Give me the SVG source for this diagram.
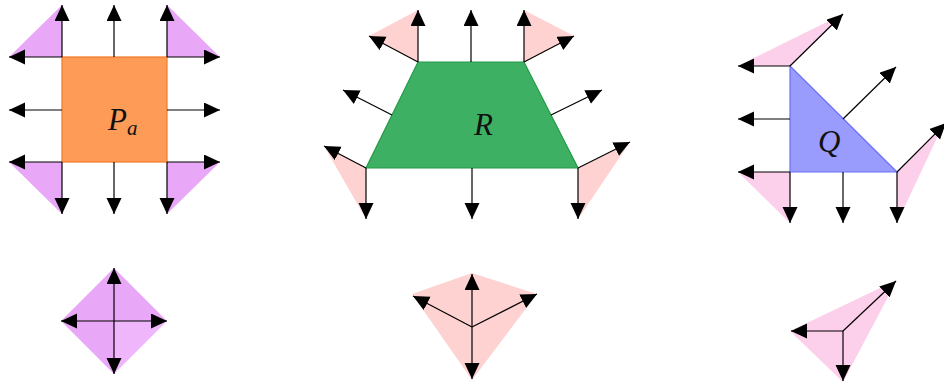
<svg xmlns="http://www.w3.org/2000/svg" width="944" height="385" viewBox="0 0 944 385">
<defs>
<marker id="ah" markerUnits="userSpaceOnUse" markerWidth="17" markerHeight="16" refX="16" refY="7.5" orient="auto">
<path d="M0,0 L16,7.5 L0,15 z" fill="#000"/>
</marker>
<style>
.ar{stroke:#000;stroke-width:1.2;fill:none;marker-end:url(#ah)}
.pu{fill:#e9a8f7}
.pu2{fill:#efb6fb}
.pk{fill:#ffd2d2}
.mg{fill:#fccfeb}
.lbl{font-family:"Liberation Serif",serif;font-style:italic;fill:#111}
</style>
</defs>
<rect width="944" height="385" fill="#fff"/>

<g id="regions">
<polygon class="pu" points="62,57 62,5 9,57"/>
<polygon class="pu" points="167,57 167,5 220,57"/>
<polygon class="pu" points="62,162 9,162 62,214"/>
<polygon class="pu" points="167,162 220,162 167,214"/>
<polygon class="pk" points="418,62 418,10 369,36"/>
<polygon class="pk" points="524,62 524,10 574,36"/>
<polygon class="pk" points="366,168 324,146 366,219"/>
<polygon class="pk" points="578,168 630,142 578,219"/>
<polygon class="mg" points="790,66 738,66 843,14"/>
<polygon class="mg" points="790,172 738,172 790,223"/>
<polygon class="mg" points="897,172 897,223 944,123"/>
</g>

<g id="node-Pa">
<rect x="62" y="57" width="105" height="105" fill="#fd9b57" stroke="#f47a24" stroke-width="1.2"/>
<text class="lbl" x="108" y="130" font-size="31">P<tspan font-size="21" dy="5">a</tspan></text>
</g>
<g id="node-R">
<polygon points="418,62 524,62 578,168 366,168" fill="#3eb064" stroke="#239a47" stroke-width="1.2"/>
<text class="lbl" x="474" y="135" font-size="31">R</text>
</g>
<g id="node-Q">
<polygon points="790,66 790,172 897,172" fill="#9a9cfd" stroke="#6d70f7" stroke-width="1.2"/>
<text class="lbl" x="818" y="152" font-size="31">Q</text>
</g>

<g id="fan-Pa">
<polygon class="pu" points="114,268 61,321 114,321"/>
<polygon class="pu" points="114,268 167,321 114,321"/>
<polygon class="pu" points="61,321 114,374 114,321"/>
<polygon class="pu2" points="167,321 114,374 114,321"/>
</g>
<g id="fan-R">
<polygon class="pk" points="472,273 537,294 472,380 412,294"/>
</g>
<g id="fan-Q">
<polygon class="mg" points="790,331 897,280 843,382"/>
</g>

<g id="connectors">
<line class="ar" x1="62" y1="57" x2="62" y2="5"/>
<line class="ar" x1="114" y1="57" x2="114" y2="5"/>
<line class="ar" x1="167" y1="57" x2="167" y2="5"/>
<line class="ar" x1="62" y1="162" x2="62" y2="214"/>
<line class="ar" x1="114" y1="162" x2="114" y2="214"/>
<line class="ar" x1="167" y1="162" x2="167" y2="214"/>
<line class="ar" x1="62" y1="57" x2="9" y2="57"/>
<line class="ar" x1="62" y1="110" x2="9" y2="110"/>
<line class="ar" x1="62" y1="162" x2="9" y2="162"/>
<line class="ar" x1="167" y1="57" x2="220" y2="57"/>
<line class="ar" x1="167" y1="110" x2="220" y2="110"/>
<line class="ar" x1="167" y1="162" x2="220" y2="162"/>
<line class="ar" x1="418" y1="62" x2="418" y2="10"/>
<line class="ar" x1="471" y1="62" x2="471" y2="10"/>
<line class="ar" x1="524" y1="62" x2="524" y2="10"/>
<line class="ar" x1="418" y1="62" x2="369" y2="36"/>
<line class="ar" x1="392" y1="115" x2="343" y2="90"/>
<line class="ar" x1="366" y1="168" x2="324" y2="146"/>
<line class="ar" x1="524" y1="62" x2="574" y2="36"/>
<line class="ar" x1="551" y1="115" x2="602" y2="90"/>
<line class="ar" x1="578" y1="168" x2="630" y2="142"/>
<line class="ar" x1="366" y1="168" x2="366" y2="219"/>
<line class="ar" x1="472" y1="168" x2="472" y2="219"/>
<line class="ar" x1="578" y1="168" x2="578" y2="219"/>
<line class="ar" x1="790" y1="66" x2="738" y2="66"/>
<line class="ar" x1="790" y1="119" x2="738" y2="119"/>
<line class="ar" x1="790" y1="172" x2="738" y2="172"/>
<line class="ar" x1="790" y1="172" x2="790" y2="223"/>
<line class="ar" x1="843" y1="172" x2="843" y2="223"/>
<line class="ar" x1="897" y1="172" x2="897" y2="223"/>
<line class="ar" x1="790" y1="66" x2="843" y2="14"/>
<line class="ar" x1="843" y1="119" x2="896" y2="67"/>
<line class="ar" x1="897" y1="172" x2="946" y2="123"/>
<line class="ar" x1="114" y1="321" x2="114" y2="268"/>
<line class="ar" x1="114" y1="321" x2="114" y2="374"/>
<line class="ar" x1="114" y1="321" x2="61" y2="321"/>
<line class="ar" x1="114" y1="321" x2="167" y2="321"/>
<line class="ar" x1="472" y1="327" x2="472" y2="274"/>
<line class="ar" x1="472" y1="327" x2="413" y2="296"/>
<line class="ar" x1="472" y1="327" x2="537" y2="294"/>
<line class="ar" x1="472" y1="327" x2="472" y2="379"/>
<line class="ar" x1="843" y1="331" x2="791" y2="331"/>
<line class="ar" x1="843" y1="331" x2="843" y2="381"/>
<line class="ar" x1="843" y1="331" x2="896" y2="281"/>
</g>
</svg>
